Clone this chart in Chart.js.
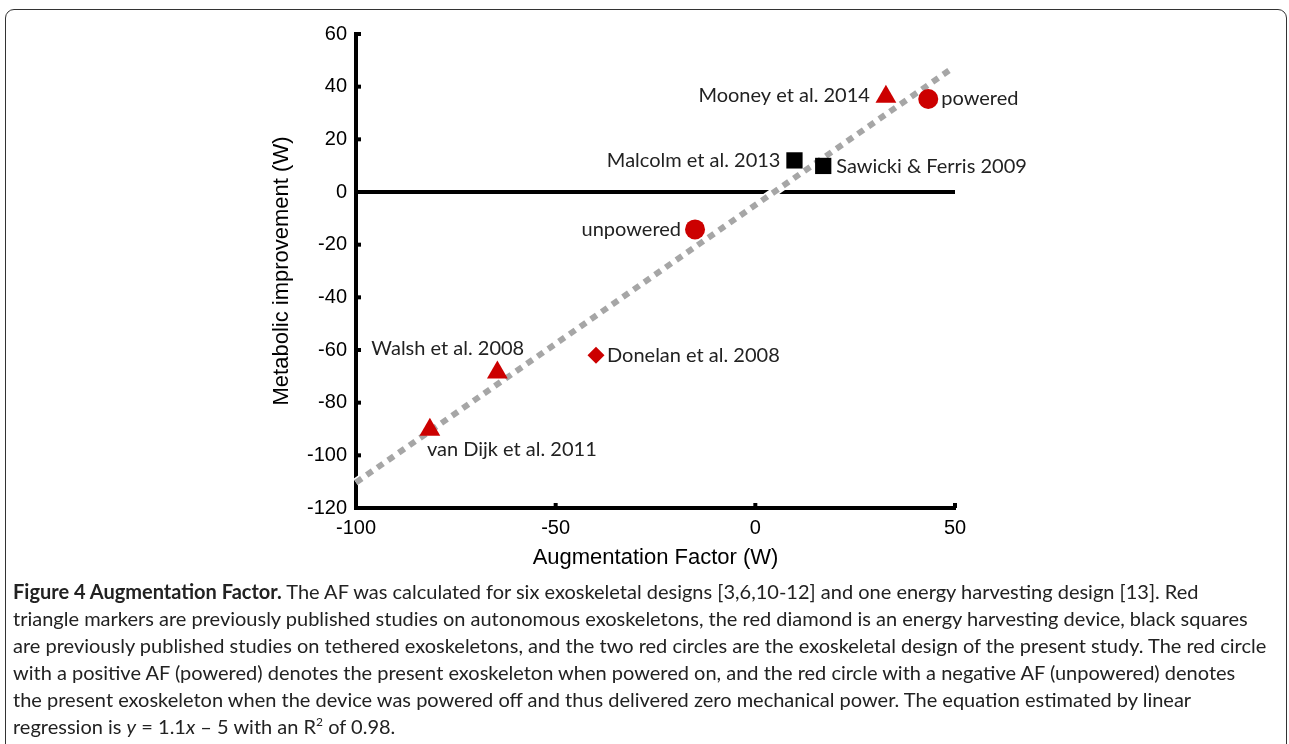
<!DOCTYPE html>
<html>
<head>
<meta charset="utf-8">
<script src="https://cdn.jsdelivr.net/npm/chart.js@4"></script>
<style>
  body { margin: 0; background: #fff; }
  #frame {
    position: absolute; left: 5px; top: 9px; width: 1282px; height: 780px;
    border: 1px solid #333; border-radius: 9px; box-sizing: border-box;
  }
  #chart { position: absolute; left: 0; top: 0; }
  #caption {
    position: absolute; left: 13px; top: 578px; width: 1274px;
    font-family: Lato, "Open Sans", sans-serif; font-size: 20px; line-height: 27px; color: #222;
  }
  #caption div { white-space: nowrap; }
</style>
</head>
<body>
<div id="frame"></div>
<canvas id="chart" width="1289" height="580"></canvas>
<div id="caption">
  <div><b>Figure 4 Augmentation Factor.</b> The AF was calculated for six exoskeletal designs [3,6,10-12] and one energy harvesting design [13]. Red</div>
  <div>triangle markers are previously published studies on autonomous exoskeletons, the red diamond is an energy harvesting device, black squares</div>
  <div>are previously published studies on tethered exoskeletons, and the two red circles are the exoskeletal design of the present study. The red circle</div>
  <div>with a positive AF (powered) denotes the present exoskeleton when powered on, and the red circle with a negative AF (unpowered) denotes</div>
  <div>the present exoskeleton when the device was powered off and thus delivered zero mechanical power. The equation estimated by linear</div>
  <div>regression is <i>y</i> = 1.1<i>x</i> &ndash; 5 with an R<sup style="font-size:12px;line-height:0">2</sup> of 0.98.</div>
</div>
<script>
// autonomous exoskeletons (red triangles)
const autoNames = ['Mooney et al. 2014', 'Walsh et al. 2008', 'van Dijk et al. 2011'];
const autoAF = [32.7, -64.6, -81.5];
const autoMet = [36.2, -68.5, -90.3];

// tethered exoskeletons (black squares)
const tetherNames = ['Malcolm et al. 2013', 'Sawicki & Ferris 2009'];
const tetherAF = [9.8, 17.0];
const tetherMet = [12.0, 9.9];

// energy harvesting (red diamond)
const harvestNames = ['Donelan et al. 2008'];
const harvestAF = [-39.9];
const harvestMet = [-62.0];

// present study (red circles)
const presentNames = ['powered', 'unpowered'];
const presentAF = [43.3, -15.1];
const presentMet = [35.3, -14.2];

// regression line ends, as drawn
const fitAF = [-100, 49.5];
const fitMet = [-110.3, 47.2];

const zeroAF = [-100, 50];
const zeroMet = [0, 0];

const xTicks = [-100, -50, 0, 50];
const yTicks = [-120, -100, -80, -60, -40, -20, 0, 20, 40, 60];

const red = '#cc0000';

function pts(xs, ys) {
  return xs.map((x, i) => ({x: x, y: ys[i]}));
}

// where each label sits next to its marker: [dx, dy, align]
const labelPlace = {
  'Mooney et al. 2014': [-16, -1, 'right'],
  'Walsh et al. 2008': [-126, -24, 'left'],
  'van Dijk et al. 2011': [-3, 20, 'left'],
  'Malcolm et al. 2013': [-14, 0, 'right'],
  'Sawicki & Ferris 2009': [13, 1, 'left'],
  'Donelan et al. 2008': [11, 0, 'left'],
  'powered': [13, 0, 'left'],
  'unpowered': [-14, 0, 'right']
};

const pointLabels = {
  id: 'pointLabels',
  afterDatasetsDraw(chart) {
    const ctx = chart.ctx;
    ctx.save();
    ctx.font = '20px Lato, "Open Sans", sans-serif';
    ctx.fillStyle = '#222';
    ctx.textBaseline = 'middle';
    chart.data.datasets.forEach((ds, i) => {
      if (!ds.names) return;
      chart.getDatasetMeta(i).data.forEach((el, j) => {
        const p = labelPlace[ds.names[j]];
        ctx.textAlign = p[2];
        ctx.fillText(ds.names[j], el.x + p[0], el.y + p[1]);
      });
    });
    ctx.restore();
  }
};

// short inward tick marks, like the original
const innerTicks = {
  id: 'innerTicks',
  afterDraw(chart) {
    const ctx = chart.ctx, a = chart.chartArea;
    const xs = chart.scales.x, ys = chart.scales.y;
    ctx.save();
    ctx.strokeStyle = '#000';
    ctx.lineWidth = 4;
    ctx.lineCap = 'butt';
    yTicks.forEach(v => {
      const py = ys.getPixelForValue(v);
      ctx.beginPath(); ctx.moveTo(a.left, py); ctx.lineTo(a.left + 5, py); ctx.stroke();
    });
    xTicks.forEach(v => {
      const px = xs.getPixelForValue(v);
      ctx.beginPath(); ctx.moveTo(px, a.bottom); ctx.lineTo(px, a.bottom - 5); ctx.stroke();
    });
    ctx.restore();
  }
};

new Chart(document.getElementById('chart'), {
  type: 'scatter',
  data: {
    datasets: [
      {names: autoNames, data: pts(autoAF, autoMet), pointStyle: 'triangle', pointRadius: 12,
       backgroundColor: red, borderColor: red, borderWidth: 0, order: 0, clip: false},
      {names: presentNames, data: pts(presentAF, presentMet), pointStyle: 'circle', pointRadius: 10,
       backgroundColor: red, borderColor: red, borderWidth: 0, order: 0, clip: false},
      {names: tetherNames, data: pts(tetherAF, tetherMet), pointStyle: 'rect', pointRadius: 11.5,
       backgroundColor: '#000', borderColor: '#000', borderWidth: 0, order: 0, clip: false},
      {names: harvestNames, data: pts(harvestAF, harvestMet), pointStyle: 'rectRot', pointRadius: 8.5,
       backgroundColor: red, borderColor: red, borderWidth: 0, order: 0, clip: false},
      {type: 'line', data: pts(fitAF, fitMet), borderColor: '#a6a6a6', borderWidth: 6,
       borderDash: [7, 6], pointRadius: 0, order: 1, clip: false},
      {type: 'line', data: pts(fitAF, fitMet), borderColor: '#fff', borderWidth: 9,
       pointRadius: 0, order: 2, clip: false},
      {type: 'line', data: pts(zeroAF, zeroMet), borderColor: '#000', borderWidth: 4,
       pointRadius: 0, order: 3, clip: false}
    ]
  },
  options: {
    responsive: false,
    animation: false,
    devicePixelRatio: 1,
    layout: {padding: {left: 265, right: 334, top: 34, bottom: 5}},
    plugins: {legend: {display: false}, tooltip: {enabled: false}},
    scales: {
      x: {
        type: 'linear', min: -100, max: 50,
        afterBuildTicks: s => { s.ticks = xTicks.map(v => ({value: v})); },
        afterFit: s => { s.height = 67; },
        grid: {color: 'rgba(0,0,0,0)', drawOnChartArea: false, drawTicks: false},
        border: {display: true, color: '#000', width: 4},
        ticks: {padding: 8, color: '#000', font: {family: '"Liberation Sans", Arial', size: 20}},
        title: {display: true, text: 'Augmentation Factor (W)', color: '#000',
                padding: {top: 0, bottom: 4}, font: {family: '"Liberation Sans", Arial', size: 22}}
      },
      y: {
        type: 'linear', min: -120, max: 60,
        afterBuildTicks: s => { s.ticks = yTicks.map(v => ({value: v})); },
        afterFit: s => { s.width = 91; },
        grid: {color: 'rgba(0,0,0,0)', drawOnChartArea: false, drawTicks: false},
        border: {display: true, color: '#000', width: 4},
        ticks: {padding: 9, color: '#000', font: {family: '"Liberation Sans", Arial', size: 20}},
        title: {display: true, text: 'Metabolic improvement (W)', color: '#000',
                padding: {top: 4, bottom: 0}, font: {family: '"Liberation Sans", Arial', size: 22}}
      }
    }
  },
  plugins: [pointLabels, innerTicks]
});
</script>
</body>
</html>
